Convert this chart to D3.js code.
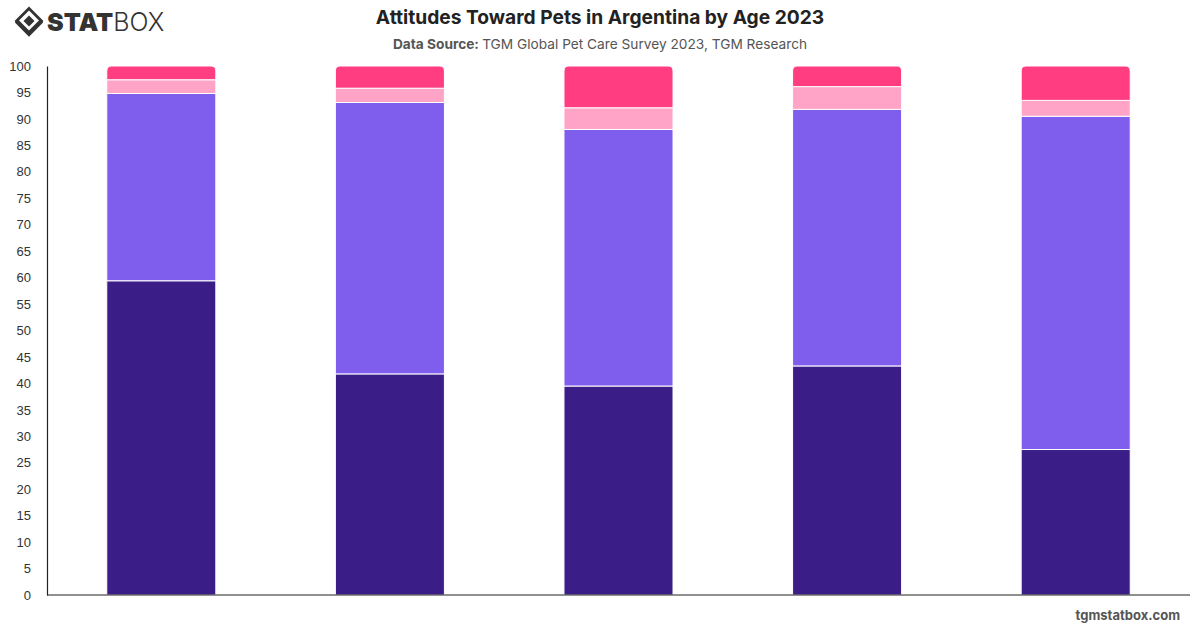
<!DOCTYPE html>
<html>
<head>
<meta charset="utf-8">
<script src="https://cdn.jsdelivr.net/npm/d3@7"></script>
<style>
  body { margin: 0; background: #fff; }
  svg { display: block; font-family: Inter, "Noto Sans", sans-serif; }
</style>
</head>
<body>
<script>
// age groups (not labelled on the chart)
var ageGroups = ["18-24", "25-34", "35-44", "45-54", "55+"];
var seriesNames = ["Strongly agree", "Agree", "Disagree", "Strongly disagree"];
var seriesColors = ["#3a1d86", "#7f5eee", "#ffa3c7", "#ff3d80"];
// values per series, one per age group
var strongAgree = [59.4, 41.8, 39.5, 43.3, 27.5];
var agree = [35.4, 51.3, 48.5, 48.5, 63.0];
var disagree = [2.6, 2.7, 4.1, 4.3, 3.0];
var strongDisagree = [2.6, 4.2, 7.9, 3.9, 6.5];
var yTicks = d3.range(0, 101, 5);

var w = 1200, h = 628;
var margin = {top: 66, right: 10, bottom: 33, left: 47};

var svg = d3.select("body").append("svg")
    .attr("width", w)
    .attr("height", h);

/* ===== table for stack ===== */
var table = ageGroups.map(function (g, i) {
    return {
        group: g,
        "Strongly agree": strongAgree[i],
        "Agree": agree[i],
        "Disagree": disagree[i],
        "Strongly disagree": strongDisagree[i]
    };
});
var stacked = d3.stack().keys(seriesNames)(table);

/* ===== scales ===== */
var xScale = d3.scaleBand()
    .domain(ageGroups)
    .range([margin.left, w - margin.right])
    .paddingInner(0.523)
    .paddingOuter(0.2615);
var yScale = d3.scaleLinear()
    .domain([0, 100])
    .range([h - margin.bottom, margin.top]);

/* ===== bars ===== */
var r = 5;
stacked.forEach(function (layer, li) {
    var isTop = li === stacked.length - 1;
    svg.append("g")
        .selectAll("path")
        .data(layer)
        .enter()
        .append("path")
        .attr("fill", seriesColors[li])
        .attr("stroke", "#fff")
        .attr("stroke-width", 1)
        .attr("d", function (d) {
            var x0 = xScale(d.data.group), x1 = x0 + xScale.bandwidth();
            var y0 = yScale(d[0]), y1 = yScale(d[1]);
            if (!isTop) {
                return "M" + x0 + "," + y0 + "H" + x1 + "V" + y1 + "H" + x0 + "Z";
            }
            return "M" + x0 + "," + y0 + "V" + (y1 + r) +
                "Q" + x0 + "," + y1 + " " + (x0 + r) + "," + y1 +
                "H" + (x1 - r) +
                "Q" + x1 + "," + y1 + " " + x1 + "," + (y1 + r) +
                "V" + y0 + "Z";
        });
});

/* ===== axes ===== */
var yAxis = d3.axisLeft(yScale).tickValues(yTicks).tickSize(0).tickPadding(16);
var gy = svg.append("g")
    .attr("transform", "translate(" + margin.left + ",0)")
    .call(yAxis);
gy.select(".domain").attr("stroke", "#222").attr("stroke-width", 1.2);
gy.selectAll("text").attr("font-size", 13).attr("fill", "#333");

svg.append("line")
    .attr("x1", margin.left).attr("x2", w - margin.right)
    .attr("y1", yScale(0)).attr("y2", yScale(0))
    .attr("stroke", "#222").attr("stroke-width", 1.2);

/* ===== titles ===== */
svg.append("text")
    .attr("x", 600).attr("y", 24)
    .attr("text-anchor", "middle")
    .attr("font-size", 19.2).attr("font-weight", 700).attr("fill", "#222")
    .text("Attitudes Toward Pets in Argentina by Age 2023");
var sub = svg.append("text")
    .attr("x", 600).attr("y", 49)
    .attr("text-anchor", "middle")
    .attr("font-size", 13.7).attr("fill", "#555");
sub.append("tspan").attr("font-weight", 700).text("Data Source: ");
sub.append("tspan").text("TGM Global Pet Care Survey 2023, TGM Research");

/* ===== logo ===== */
var logo = svg.append("g").attr("transform", "translate(29,21)");
logo.append("path")
    .attr("d", "M0,-12.5 L12.5,0 L0,12.5 L-12.5,0 Z")
    .attr("fill", "none").attr("stroke", "#333").attr("stroke-width", 2.8);
logo.append("path")
    .attr("d", "M0,-5.5 L5.5,0 L0,5.5 L-5.5,0 Z")
    .attr("fill", "#333");
logo.append("path")
    .attr("d", "M-12.5,0 L0,12.5 L12.5,0")
    .attr("fill", "none").attr("stroke", "#333").attr("stroke-width", 4.5);
var logoText = svg.append("text")
    .attr("x", 47).attr("y", 31)
    .attr("font-size", 25).attr("fill", "#333")
    .attr("font-family", "Inter, sans-serif");
logoText.append("tspan").attr("font-weight", 900).text("STAT");
logoText.append("tspan").attr("font-weight", 300).text("BOX");

/* ===== footer ===== */
svg.append("text")
    .attr("x", 1180).attr("y", 620)
    .attr("text-anchor", "end")
    .attr("font-size", 13).attr("font-weight", 700).attr("fill", "#555")
    .text("tgmstatbox.com");
</script>
</body>
</html>
